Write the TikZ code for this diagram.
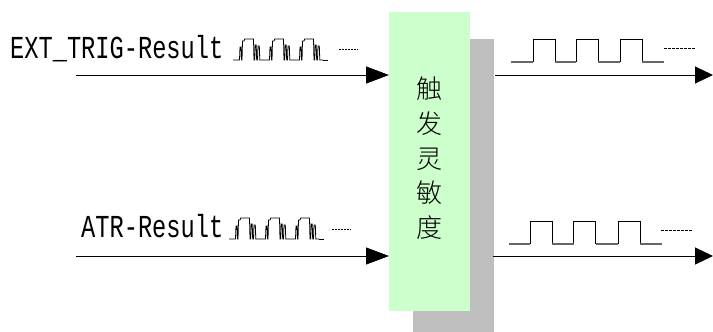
\documentclass[tikz,border=0pt]{standalone}
\usepackage{fontspec}
\usetikzlibrary{arrows.meta}
\newfontfamily\latfont[FakeStretch=0.74]{Liberation Mono}
\newfontfamily\cjkfont{Noto Sans CJK SC Light}
\newcommand{\smallpulses}[2]{%
  \foreach \k in {0,1,2}{
    \draw[pulseline,shift={(#1+30*\k,#2)}] (0,0) -- (6.5,0) -- (7,-13) -- (8,-13) -- (8.5,0) -- (9,0) -- (9.5,-19) -- (10.5,-19) -- (11,-19) -- (11.7,-21) -- (20.5,-21) -- (21,0) -- (21.7,0) -- (22.2,-15) -- (23.2,-15) -- (23.7,0) -- (24.5,0) -- (25,-14) -- (26.3,-14) -- (26.8,0) -- (30,0);
  }
  \draw[pulseline] (#1+90,#2) -- (#1+95,#2);
}
\tikzset{
  pulseline/.style={black,line width=0.8pt,line join=miter},
  waveline/.style={black,line width=1pt,line join=miter},
  lowline/.style={black!60,line width=1.6pt},
  dotline/.style={black,line width=0.8pt,dash pattern=on 2pt off 1pt},
  longdot/.style={black,line width=1pt,dash pattern=on 3pt off 1pt},
  inarrow/.style={black,line width=1pt,-{Triangle[length=23pt,width=17pt]}},
  outarrow/.style={black,line width=1pt,-{Triangle[length=18pt,width=17pt]}},
  latlabel/.style={anchor=base west,inner sep=0pt,font=\latfont\fontsize{32}{32}\selectfont},
}
\begin{document}
\begin{tikzpicture}[x=1pt,y=-1pt]
\useasboundingbox (0,0) rectangle (713,332);
\fill[white] (0,0) rectangle (713,332);
\node[fill=black!25,draw=none,inner sep=0pt,minimum width=81pt,minimum height=293pt,anchor=north west] (shadow) at (413,39) {};
\node[fill={rgb,255:red,204;green,255;blue,204},draw=none,inner sep=0pt,minimum width=81pt,minimum height=299pt,anchor=north west] (box) at (389,12) {};
\node[inner sep=0pt,align=center,anchor=north,font=\cjkfont\fontsize{26}{34.6}\selectfont] (txt) at (429,77) {触\\发\\灵\\敏\\度};

\node[latlabel] (ext) at (10,58) {EXT\_TRIG-Result};
\node[latlabel] (atr) at (81,237) {ATR-Result};

\coordinate (inA) at (76,75);
\coordinate (inB) at (76,256);
\coordinate (outAs) at (495,75);
\coordinate (outAe) at (713,75);
\coordinate (outBs) at (493,256);
\coordinate (outBe) at (713,256);
\draw[inarrow] (inA) -- (inA -| box.west);
\draw[inarrow] (inB) -- (inB -| box.west);
\draw[outarrow] (outAs) -- (outAe);
\draw[outarrow] (outBs) -- (outBe);

\smallpulses{233}{60}
\smallpulses{229}{239}
\draw[dotline] (339,49) -- (358,49);
\draw[dotline] (332,229) -- (351,229);

\draw[waveline] (533,62) -- (533,39) -- (555,39) -- (555,62);
\draw[waveline] (576,62) -- (576,39) -- (598,39) -- (598,62);
\draw[waveline] (620,62) -- (620,39) -- (642,39) -- (642,62);
\draw[lowline] (511,62) -- (533,62) (555,62) -- (576,62) (598,62) -- (620,62) (642,62) -- (664,62);
\draw[longdot] (664,48) -- (695,48);
\draw[waveline] (530,244) -- (530,221) -- (552,221) -- (552,244);
\draw[waveline] (573.5,244) -- (573.5,221) -- (595.5,221) -- (595.5,244);
\draw[waveline] (618,244) -- (618,221) -- (640,221) -- (640,244);
\draw[lowline] (509,244) -- (530,244) (552,244) -- (573.5,244) (595.5,244) -- (618,244) (640,244) -- (662,244);
\draw[longdot] (661,230) -- (693,230);
\end{tikzpicture}
\end{document}
